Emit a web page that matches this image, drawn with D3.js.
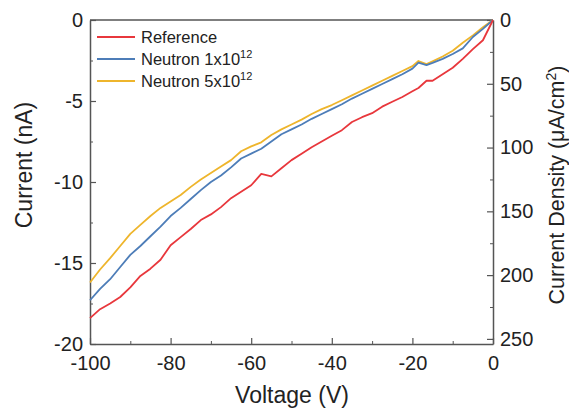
<!DOCTYPE html>
<html>
<head>
<meta charset="utf-8">
<script src="https://cdn.jsdelivr.net/npm/d3@7"></script>
<style>
  body { margin: 0; background: #fff; }
  text { font-family: "Liberation Sans", Arial, sans-serif; fill: #222; }
</style>
</head>
<body>
<svg id="chart" width="569" height="413"></svg>
<script>
// voltage sweep (V)
let voltage = [-100,-97.5,-95,-92.5,-90,-87.5,-85,-82.5,-80,-77.5,-75,-72.5,-70,-67.5,-65,-62.5,
    -60,-57.5,-55,-52.5,-50,-47.5,-45,-42.5,-40,-37.5,-35,-32.5,-30,-27.5,-25,-22.5,-20,
    -18.5,-16.5,-15,-12.5,-10,-7.5,-5,-2.5,0];
// current (nA)
let reference = [-18.4,-17.85,-17.5,-17.1,-16.5,-15.8,-15.35,-14.8,-13.9,-13.4,-12.9,-12.35,-12.0,-11.55,-11.0,-10.6,
    -10.2,-9.5,-9.65,-9.15,-8.65,-8.25,-7.85,-7.5,-7.15,-6.8,-6.3,-6.0,-5.75,-5.35,-5.05,-4.75,-4.4,
    -4.2,-3.75,-3.75,-3.35,-2.95,-2.4,-1.8,-1.25,0];
let neutron1e12 = [-17.3,-16.6,-16.0,-15.25,-14.5,-13.95,-13.35,-12.75,-12.1,-11.6,-11.05,-10.5,-10.0,-9.6,-9.1,-8.55,
    -8.25,-7.95,-7.5,-7.05,-6.75,-6.45,-6.1,-5.8,-5.5,-5.2,-4.85,-4.55,-4.25,-3.95,-3.65,-3.35,-3.0,
    -2.63,-2.78,-2.65,-2.4,-2.1,-1.75,-1.05,-0.55,0];
let neutron5e12 = [-16.2,-15.4,-14.7,-13.95,-13.2,-12.65,-12.1,-11.6,-11.2,-10.8,-10.3,-9.85,-9.45,-9.05,-8.65,-8.1,
    -7.8,-7.55,-7.1,-6.75,-6.45,-6.15,-5.8,-5.5,-5.25,-4.95,-4.65,-4.35,-4.05,-3.75,-3.45,-3.15,-2.85,
    -2.53,-2.72,-2.55,-2.25,-1.9,-1.4,-0.95,-0.45,0];

let seriesNames = ["Reference","Neutron 1x10","Neutron 5x10"];
let seriesSup = ["","12","12"];
let seriesColors = ["#e8373c","#4d7db8","#eeb52c"];
let xTicks = [-100,-80,-60,-40,-20,0];
let yTicks = [0,-5,-10,-15,-20];
let densityTicks = [0,50,100,150,200,250];

let svg = d3.select("#chart");
let m = {left:90, right:493, top:20, bottom:344};
let axisColor = "#555";

let x = d3.scaleLinear().domain([-100,0]).range([m.left,m.right]);
let y = d3.scaleLinear().domain([0,-20]).range([m.top,m.bottom]);
let y2 = d3.scaleLinear().domain([0,254]).range([m.top,m.bottom]);

// frame top line
svg.append("line")
    .attr("x1",m.left).attr("x2",m.right)
    .attr("y1",m.top).attr("y2",m.top)
    .style("stroke",axisColor).style("stroke-width",1.5);

function styleAxis(g){
    g.select(".domain").style("stroke",axisColor).style("stroke-width",1.5);
    g.selectAll(".tick line").style("stroke",axisColor).style("stroke-width",1.2);
    g.selectAll("text").style("font-size","20px").style("fill","#222")
        .style("font-family","'Liberation Sans', Arial, sans-serif");
}
let plain = d => String(d);

// minor ticks first
svg.append("g")
    .attr("transform",`translate(0,${m.bottom})`)
    .call(d3.axisTop(x).tickValues(d3.range(-90,0,20)).tickSize(3).tickFormat("").tickSizeOuter(0))
    .call(g=>{g.select(".domain").remove();g.selectAll("line").style("stroke",axisColor);});
svg.append("g")
    .attr("transform",`translate(${m.left},0)`)
    .call(d3.axisRight(y).tickValues(d3.range(-2.5,-20,-5)).tickSize(3).tickFormat("").tickSizeOuter(0))
    .call(g=>{g.select(".domain").remove();g.selectAll("line").style("stroke",axisColor);});
svg.append("g")
    .attr("transform",`translate(${m.right},0)`)
    .call(d3.axisLeft(y2).tickValues(d3.range(25,250,50)).tickSize(3).tickFormat("").tickSizeOuter(0))
    .call(g=>{g.select(".domain").remove();g.selectAll("line").style("stroke",axisColor);});

// bottom axis: ticks inward, labels below
let xAxis = svg.append("g")
    .attr("transform",`translate(0,${m.bottom})`)
    .call(d3.axisBottom(x).tickValues(xTicks).tickSize(-6).tickSizeOuter(0).tickPadding(12).tickFormat(plain))
    .call(styleAxis);
xAxis.selectAll("text").attr("dy","0.71em");

svg.append("g")
    .attr("transform",`translate(${m.left},0)`)
    .call(d3.axisLeft(y).tickValues(yTicks).tickSize(-6).tickSizeOuter(0).tickPadding(7).tickFormat(plain))
    .call(styleAxis);

svg.append("g")
    .attr("transform",`translate(${m.right},0)`)
    .call(d3.axisRight(y2).tickValues(densityTicks).tickSize(-6).tickSizeOuter(0).tickPadding(7).tickFormat(plain))
    .call(styleAxis);

// curves
let series = [reference, neutron1e12, neutron5e12];
let line = d3.line().x((d,i)=>x(voltage[i])).y(d=>y(d));
svg.append("g").selectAll("path")
    .data(series.slice().reverse())
    .enter().append("path")
    .attr("d",d=>line(d))
    .style("fill","none")
    .style("stroke",(d,i)=>seriesColors[2-i])
    .style("stroke-width",1.8)
    .style("stroke-linejoin","round");

// legend
let legend = svg.append("g");
seriesNames.forEach((name,i)=>{
    let ly = 37 + i*22;
    legend.append("line")
        .attr("x1",97).attr("x2",135).attr("y1",ly).attr("y2",ly)
        .style("stroke",seriesColors[i]).style("stroke-width",1.8);
    let t = legend.append("text")
        .attr("x",141).attr("y",ly+6)
        .style("font-size","16.5px")
        .text(name);
    if(seriesSup[i]){
        t.append("tspan").attr("dy",-7).style("font-size","11px").text(seriesSup[i]);
    }
});

// axis titles
svg.append("text")
    .attr("x",292).attr("y",403)
    .style("text-anchor","middle").style("font-size","23px")
    .text("Voltage (V)");
svg.append("text")
    .attr("transform","translate(32,165) rotate(-90)")
    .style("text-anchor","middle").style("font-size","23px")
    .text("Current (nA)");
let rt = svg.append("text")
    .attr("transform","translate(564,185) rotate(-90)")
    .style("text-anchor","middle").style("font-size","21.5px")
    .text("Current Density (μA/cm");
rt.append("tspan").attr("dy",-8).style("font-size","14px").text("2");
rt.append("tspan").attr("dy",8).text(")");
</script>
</body>
</html>
